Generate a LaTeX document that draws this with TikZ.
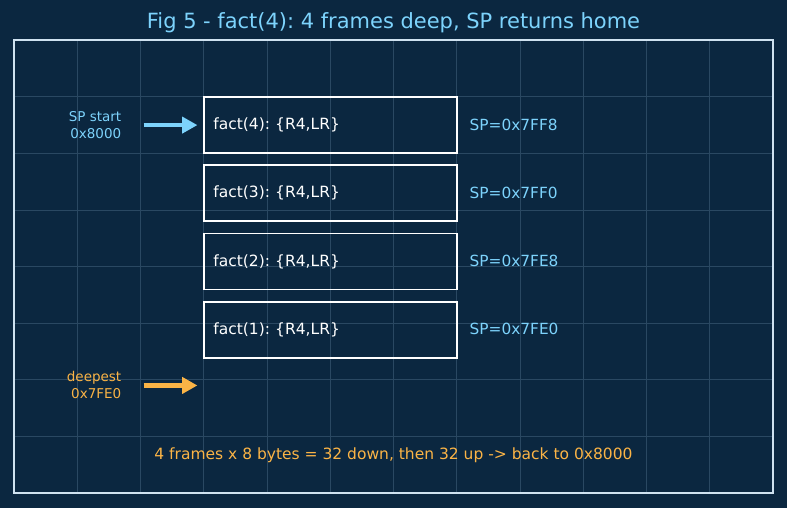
\documentclass[tikz,border=0pt]{standalone}
\usepackage{fontspec}
\setmainfont{DejaVu Sans}
\frenchspacing
\usepackage{tikz}
\usetikzlibrary{arrows.meta,positioning}
\definecolor{navy}{HTML}{0B2740}
\definecolor{gridblue}{HTML}{2A4862}
\definecolor{frameblue}{HTML}{CFE2F0}
\definecolor{sky}{HTML}{7DD3FC}
\definecolor{amber}{HTML}{FBB446}
\tikzset{
  framebox/.style={
    rectangle, draw=white, line width=1.4pt, text=white,
    minimum width=2.53in, minimum height=0.56in, outer sep=0pt,
    text width=169pt, inner xsep=6.85pt, align=left,
    font=\fontsize{11.2}{13}\selectfont
  },
  splabel/.style={
    anchor=west, inner sep=0pt, text=sky,
    font=\fontsize{11.1}{13}\selectfont
  },
  sidelabel/.style={
    anchor=east, inner sep=0pt, text=#1, align=right,
    font=\fontsize{9.75}{12.3}\selectfont
  },
  sidelabel/.default=sky,
  sidearrow/.style={
    -{Triangle[length=11pt,width=11.5pt]}, line width=3pt, color=#1
  },
  sidearrow/.default=sky,
  gridline/.style={gridblue, line width=0.5pt},
  % ── title and footer ──
  titlenode/.style={text=sky, font=\fontsize{15.15}{18}\selectfont},
  footnode/.style={text=amber, font=\fontsize{11.2}{13}\selectfont},
}

\begin{document}
\begin{tikzpicture}[
  x=0.6325in, y=0.566in,
  node distance=0.122in
]

\fill[navy] (-0.2213,-0.265) rectangle (12.2213,8.710);
\useasboundingbox (-0.2213,-0.265) rectangle (12.2213,8.710);
\foreach \i in {1,...,11}
  \draw[gridline] (\i,0) -- (\i,8);
\foreach \j in {1,...,7}
  \draw[gridline] (0,\j) -- (12,\j);
\draw[frameblue, line width=1.1pt] (0,0) rectangle (12,8);

\node[titlenode] (title) at (6,8.31) {Fig 5 - fact(4): 4 frames deep, SP returns home};

% stack frames
\node[framebox] (f4) at (5,6.5) {fact(4): \{R4,LR\}};
\node[framebox, below=of f4] (f3) {fact(3): \{R4,LR\}};
\node[framebox, below=of f3] (f2) {fact(2): \{R4,LR\}};
\node[framebox, below=of f2] (f1) {fact(1): \{R4,LR\}};

\node[splabel] (sp4) at (7.2,6.5) {SP=0x7FF8};
\node[splabel] (sp3) at (7.2,5.3) {SP=0x7FF0};
\node[splabel] (sp2) at (7.2,4.1) {SP=0x7FE8};
\node[splabel] (sp1) at (7.2,2.9) {SP=0x7FE0};

\node[sidelabel] (spstart) at (1.7,6.5) {SP start\\0x8000};
\node[sidelabel=amber] (deepest) at (1.7,1.9) {deepest\\0x7FE0};
\coordinate (deeptip) at (2.9,1.9);

\draw[sidearrow] ([xshift=0.221in]spstart.east) -- ([xshift=-0.063in]f4.west);
\draw[sidearrow=amber] ([xshift=0.221in]deepest.east) -- (deeptip);

\node[footnode] (foot) at (6,0.67) {4 frames x 8 bytes = 32 down, then 32 up -> back to 0x8000};

\end{tikzpicture}
\end{document}
